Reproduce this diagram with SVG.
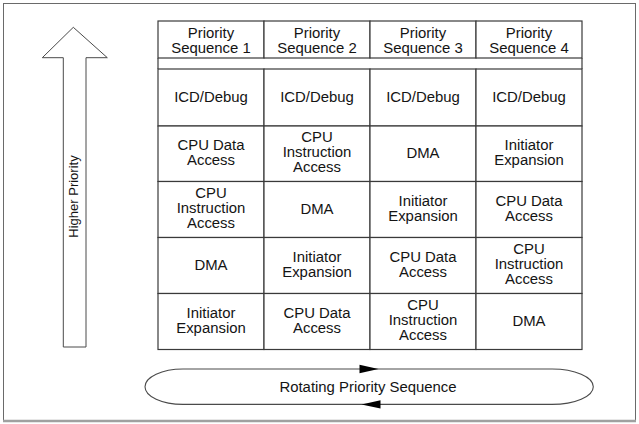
<svg xmlns="http://www.w3.org/2000/svg" width="639" height="424" viewBox="0 0 639 424">
  <style>
    .frame { fill: #ffffff; stroke: #6a6a6a; stroke-width: 1; }
    .cell { fill: #ffffff; stroke: #3a3a3a; stroke-width: 1.2; }
    .rule { stroke: #3a3a3a; stroke-width: 1.2; }
    .t { font-family: "Liberation Sans", Arial, sans-serif; font-size: 14.9px; fill: #141414; text-anchor: middle; }
    .vt { font-family: "Liberation Sans", Arial, sans-serif; font-size: 13px; fill: #141414; text-anchor: middle; }
    .outline { fill: #ffffff; stroke: #4a4a4a; stroke-width: 1; }
    .loop { fill: none; stroke: #4a4a4a; stroke-width: 1.1; }
    .head { fill: #000000; stroke: none; }
  </style>

  <!-- page frame -->
  <rect x="0" y="0" width="639" height="424" fill="#ffffff"/>
  <rect class="frame" x="3.5" y="3.5" width="632" height="417"/>
  <line x1="3" y1="421" x2="636" y2="421" stroke="#a0a0a0" stroke-width="2.5"/>

  <!-- priority arrow -->
  <g id="higher-priority">
    <polygon class="outline" points="73.3,27.3 107.3,57.7 86,57.7 86,347 63.3,347 63.3,57.7 42.3,57.7"/>
    <text class="vt" transform="translate(78,196.5) rotate(-90)" x="0" y="0">Higher Priority</text>
  </g>

  <!-- header row -->
  <g id="hdr-1"><rect class="cell" x="158" y="21" width="106" height="37"/>
    <text class="t" x="211" y="38">Priority</text><text class="t" x="211" y="53">Sequence 1</text></g>
  <g id="hdr-2"><rect class="cell" x="264" y="21" width="106" height="37"/>
    <text class="t" x="317" y="38">Priority</text><text class="t" x="317" y="53">Sequence 2</text></g>
  <g id="hdr-3"><rect class="cell" x="370" y="21" width="106" height="37"/>
    <text class="t" x="423" y="38">Priority</text><text class="t" x="423" y="53">Sequence 3</text></g>
  <g id="hdr-4"><rect class="cell" x="476" y="21" width="106" height="37"/>
    <text class="t" x="529" y="38">Priority</text><text class="t" x="529" y="53">Sequence 4</text></g>

  <!-- table side borders run through the header gap -->
  <line class="rule" x1="158" y1="58" x2="158" y2="69"/>
  <line class="rule" x1="582" y1="58" x2="582" y2="69"/>

  <!-- sequence 1 -->
  <g id="s1-r1"><rect class="cell" x="158" y="69" width="106" height="57"/>
    <text class="t" x="211" y="102">ICD/Debug</text></g>
  <g id="s1-r2"><rect class="cell" x="158" y="126" width="106" height="55.5"/>
    <text class="t" x="211" y="150">CPU Data</text><text class="t" x="211" y="165">Access</text></g>
  <g id="s1-r3"><rect class="cell" x="158" y="181.5" width="106" height="56"/>
    <text class="t" x="211" y="197.5">CPU</text><text class="t" x="211" y="212.5">Instruction</text><text class="t" x="211" y="227.5">Access</text></g>
  <g id="s1-r4"><rect class="cell" x="158" y="237.5" width="106" height="56"/>
    <text class="t" x="211" y="270">DMA</text></g>
  <g id="s1-r5"><rect class="cell" x="158" y="293.5" width="106" height="56"/>
    <text class="t" x="211" y="318">Initiator</text><text class="t" x="211" y="333">Expansion</text></g>

  <!-- sequence 2 -->
  <g id="s2-r1"><rect class="cell" x="264" y="69" width="106" height="57"/>
    <text class="t" x="317" y="102">ICD/Debug</text></g>
  <g id="s2-r2"><rect class="cell" x="264" y="126" width="106" height="55.5"/>
    <text class="t" x="317" y="141.5">CPU</text><text class="t" x="317" y="156.5">Instruction</text><text class="t" x="317" y="171.5">Access</text></g>
  <g id="s2-r3"><rect class="cell" x="264" y="181.5" width="106" height="56"/>
    <text class="t" x="317" y="214">DMA</text></g>
  <g id="s2-r4"><rect class="cell" x="264" y="237.5" width="106" height="56"/>
    <text class="t" x="317" y="262">Initiator</text><text class="t" x="317" y="277">Expansion</text></g>
  <g id="s2-r5"><rect class="cell" x="264" y="293.5" width="106" height="56"/>
    <text class="t" x="317" y="318">CPU Data</text><text class="t" x="317" y="333">Access</text></g>

  <!-- sequence 3 -->
  <g id="s3-r1"><rect class="cell" x="370" y="69" width="106" height="57"/>
    <text class="t" x="423" y="102">ICD/Debug</text></g>
  <g id="s3-r2"><rect class="cell" x="370" y="126" width="106" height="55.5"/>
    <text class="t" x="423" y="158">DMA</text></g>
  <g id="s3-r3"><rect class="cell" x="370" y="181.5" width="106" height="56"/>
    <text class="t" x="423" y="205.5">Initiator</text><text class="t" x="423" y="220.5">Expansion</text></g>
  <g id="s3-r4"><rect class="cell" x="370" y="237.5" width="106" height="56"/>
    <text class="t" x="423" y="262">CPU Data</text><text class="t" x="423" y="277">Access</text></g>
  <g id="s3-r5"><rect class="cell" x="370" y="293.5" width="106" height="56"/>
    <text class="t" x="423" y="309.5">CPU</text><text class="t" x="423" y="324.5">Instruction</text><text class="t" x="423" y="339.5">Access</text></g>

  <!-- sequence 4 -->
  <g id="s4-r1"><rect class="cell" x="476" y="69" width="106" height="57"/>
    <text class="t" x="529" y="102">ICD/Debug</text></g>
  <g id="s4-r2"><rect class="cell" x="476" y="126" width="106" height="55.5"/>
    <text class="t" x="529" y="150">Initiator</text><text class="t" x="529" y="165">Expansion</text></g>
  <g id="s4-r3"><rect class="cell" x="476" y="181.5" width="106" height="56"/>
    <text class="t" x="529" y="205.5">CPU Data</text><text class="t" x="529" y="220.5">Access</text></g>
  <g id="s4-r4"><rect class="cell" x="476" y="237.5" width="106" height="56"/>
    <text class="t" x="529" y="253.5">CPU</text><text class="t" x="529" y="268.5">Instruction</text><text class="t" x="529" y="283.5">Access</text></g>
  <g id="s4-r5"><rect class="cell" x="476" y="293.5" width="106" height="56"/>
    <text class="t" x="529" y="326">DMA</text></g>

  <!-- rotation loop -->
  <g id="connectors">
    <path class="loop" d="M183,369 L552,369 A41.3,17.7 0 0 1 552,404.4 L183,404.4 A38,17.7 0 0 1 183,369 Z"/>
    <polygon class="head" points="378.5,369 359.5,364.8 359.5,373.2"/>
    <polygon class="head" points="361.5,404.4 380.5,400.2 380.5,408.6"/>
  </g>
  <g id="rotating-label">
    <text class="t" x="368" y="392">Rotating Priority Sequence</text>
  </g>
</svg>
